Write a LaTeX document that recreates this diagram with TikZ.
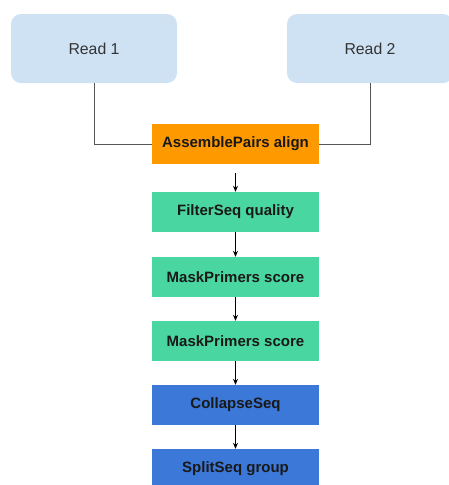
\documentclass[tikz,border=0pt]{standalone}
\usepackage{fontspec}
\setmainfont{Liberation Sans}
\usetikzlibrary{arrows.meta}
\definecolor{readfill}{HTML}{CFE2F3}
\definecolor{asmfill}{HTML}{FF9900}
\definecolor{qcfill}{HTML}{4AD6A0}
\definecolor{seqfill}{HTML}{3C78D8}
\definecolor{linegrey}{HTML}{555555}
\tikzset{
  readbox/.style={rectangle, rounded corners=10pt, fill=readfill,
    minimum width=166pt, minimum height=69pt, inner sep=0pt,
    font=\fontsize{15.8}{18}\selectfont, text=black!80},
  stepbox/.style={rectangle, minimum width=167pt, minimum height=40pt,
    inner sep=0pt, font=\fontsize{15}{18}\selectfont\bfseries, text=black!90},
  joinline/.style={draw=linegrey, line width=0.9pt},
  flow/.style={draw=black, line width=0.8pt, -{Stealth[length=6pt,width=5pt]}}
}
\begin{document}
\begin{tikzpicture}[x=1pt,y=-1pt]
  \useasboundingbox (0,0) rectangle (448,485);
  % paired reads
  \node[readbox] (r1) at (94,48.5) {Read 1};
  \node[readbox] (r2) at (370,48.5) {Read 2};
  % processing pipeline
  \node[stepbox, fill=asmfill] (ap) at (235.5,144) {AssemblePairs align};
  \node[stepbox, fill=qcfill] (fs) at (235.5,212) {FilterSeq quality};
  \node[stepbox, fill=qcfill] (mp1) at (235.5,277) {MaskPrimers score};
  \node[stepbox, fill=qcfill] (mp2) at (235.5,341) {MaskPrimers score};
  \node[stepbox, fill=seqfill] (cs) at (235.5,405) {CollapseSeq};
  \node[stepbox, fill=seqfill] (ss) at (235.5,469) {SplitSeq group};
  % reads joined into the assembly step
  \draw[joinline] (r1.south) |- (ap.west);
  \draw[joinline] (r2.south) |- (ap.east);
  % step-to-step arrows
  \draw[flow, shorten <=9pt] (ap.south) -- (fs.north);
  \draw[flow] (fs.south) -- (mp1.north);
  \draw[flow] (mp1.south) -- (mp2.north);
  \draw[flow] (mp2.south) -- (cs.north);
  \draw[flow] (cs.south) -- (ss.north);
\end{tikzpicture}
\end{document}
